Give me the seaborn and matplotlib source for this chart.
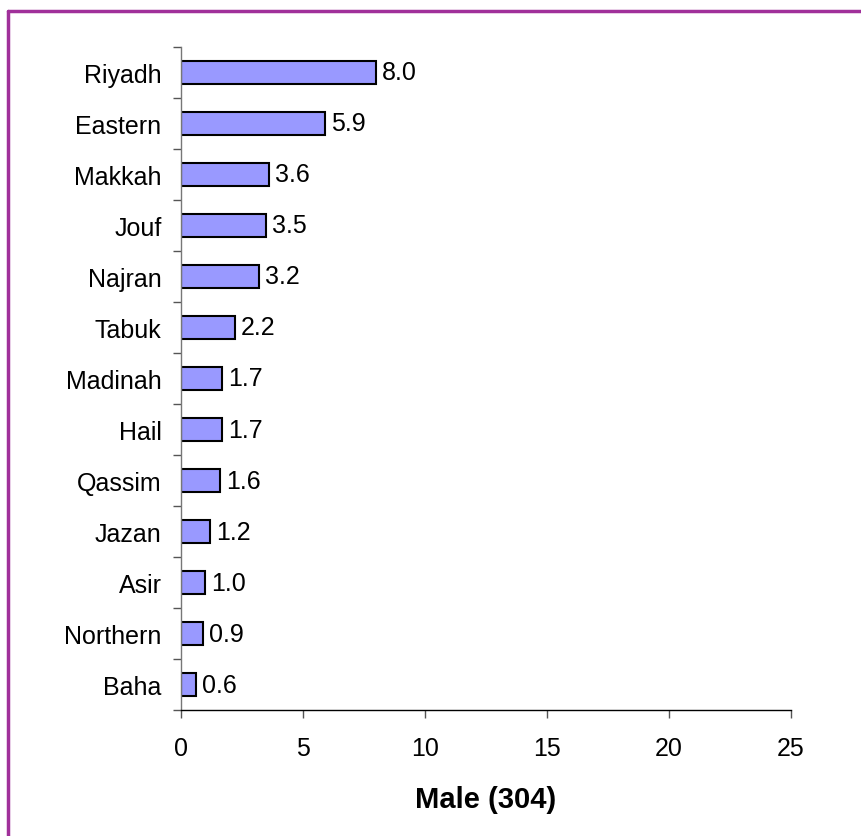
import matplotlib
matplotlib.use('Agg')
import matplotlib.pyplot as plt
import seaborn as sns
import pandas as pd
from matplotlib.lines import Line2D

regions = ['Riyadh', 'Eastern', 'Makkah', 'Jouf', 'Najran', 'Tabuk', 'Madinah',
           'Hail', 'Qassim', 'Jazan', 'Asir', 'Northern', 'Baha']
values = [8.0, 5.9, 3.6, 3.5, 3.2, 2.2, 1.7, 1.7, 1.6, 1.2, 1.0, 0.9, 0.6]
xticks = [0, 5, 10, 15, 20, 25]
xlabel = 'Male (304)'

sns.set_style('white')
plt.rcParams['font.family'] = ['Liberation Sans', 'DejaVu Sans']
plt.rcParams['text.color'] = 'black'
plt.rcParams['axes.labelcolor'] = 'black'
plt.rcParams['xtick.labelcolor'] = 'black'
plt.rcParams['ytick.labelcolor'] = 'black'

df = pd.DataFrame({'region': regions, 'value': values})

fig = plt.figure(figsize=(8.61, 8.37), dpi=100)
ax = fig.add_axes([0.2102, 0.1505, 0.7085, 0.7922])

sns.barplot(data=df, x='value', y='region', orient='h', color='#9999FF',
            edgecolor='black', linewidth=1.5, width=0.45, saturation=1, ax=ax)

# value labels right of each bar
for i, v in enumerate(values):
    ax.text(v + 0.25, i, f'{v:.1f}', va='center', ha='left', fontsize=18)

ax.set_xlim(0, 25)
ax.set_ylim(len(regions) - 0.5, -0.5)
ax.set_xticks(xticks)
ax.set_xticklabels([str(t) for t in xticks], fontsize=18)
ax.set_yticks([i - 0.5 for i in range(len(regions) + 1)], minor=False)
ax.set_yticklabels([])
ax.set_yticks(range(len(regions)), minor=True)
ax.set_yticklabels(regions, minor=True, fontsize=18)
ax.tick_params(axis='y', which='major', length=6, width=1, color='#555555', left=True, direction='out')
ax.tick_params(axis='y', which='minor', length=0, pad=14)
ax.tick_params(axis='x', length=6, width=1, color='#555555', bottom=True, direction='out', pad=13)
ax.set_xlabel(xlabel, fontsize=21, fontweight='bold', labelpad=18)
ax.set_ylabel('')

for s in ['top', 'right']:
    ax.spines[s].set_visible(False)
ax.spines['left'].set_color('#777777')
ax.spines['bottom'].set_color('black')
ax.spines['left'].set_linewidth(1)
ax.spines['bottom'].set_linewidth(1)

# purple frame (top and left edges)
fig.add_artist(Line2D([8 / 861, 1.0], [1 - 12 / 837, 1 - 12 / 837], color='#A0309A', lw=2.5, transform=fig.transFigure))
fig.add_artist(Line2D([8 / 861, 8 / 861], [0.0, 1 - 12 / 837], color='#A0309A', lw=2.5, transform=fig.transFigure))

fig.savefig('out.png', dpi=100)
